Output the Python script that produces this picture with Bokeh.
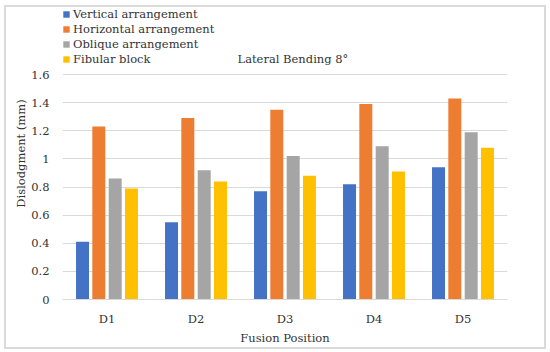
from bokeh.plotting import figure
from bokeh.models import ColumnDataSource, Legend, LegendItem, Label, FactorRange
from bokeh.transform import dodge
from bokeh.embed import file_html
from bokeh.resources import INLINE

categories = ["D1", "D2", "D3", "D4", "D5"]
vertical = [0.41, 0.55, 0.77, 0.82, 0.94]
horizontal = [1.23, 1.29, 1.35, 1.39, 1.43]
oblique = [0.86, 0.92, 1.02, 1.09, 1.19]
fibular = [0.79, 0.84, 0.88, 0.91, 1.08]
series_names = ["Vertical arrangement", "Horizontal arrangement", "Oblique arrangement", "Fibular block"]
colors = ["#4472C4", "#ED7D31", "#A5A5A5", "#FFC000"]
y_ticks = [0, 0.2, 0.4, 0.6, 0.8, 1.0, 1.2, 1.4, 1.6]
y_tick_labels = ["0", "0.2", "0.4", "0.6", "0.8", "1", "1.2", "1.4", "1.6"]

FONT = "DejaVu Serif"
FS = "11.5px"
TXT = "#333333"

src = ColumnDataSource(dict(cat=categories, v=vertical, h=horizontal, o=oblique, f=fibular))

# frame spans from the top of the chart to the zero line;
# the area above 1.6 holds the legend and the title
p = figure(frame_width=445, frame_height=292,
           x_range=FactorRange(*categories, range_padding=0),
           y_range=(0, 2.0765), output_backend="svg", toolbar_location=None,
           min_border_left=56, min_border_right=37, min_border_top=0, min_border_bottom=48)
p.styles = {"margin-left": "4px", "margin-top": "5px", "border": "2px solid #DADADA"}

offsets = [-0.275, -0.092, 0.092, 0.275]
keys = ["v", "h", "o", "f"]
renderers = []
for k, off, c in zip(keys, offsets, colors):
    r = p.vbar(x=dodge("cat", off, range=p.x_range), top=k, width=0.146, source=src,
               fill_color=c, line_color=None)
    renderers.append(r)

p.outline_line_color = None
p.xgrid.grid_line_color = None
p.ygrid.grid_line_color = "#D9D9D9"
p.ygrid.grid_line_width = 1
p.yaxis.ticker = y_ticks
p.yaxis.major_label_overrides = {t: l for t, l in zip(y_ticks, y_tick_labels)}

for ax in (p.xaxis[0], p.yaxis[0]):
    ax.axis_line_color = None
    ax.major_tick_line_color = None
    ax.minor_tick_line_color = None
    ax.major_tick_out = 0
    ax.major_tick_in = 0
    ax.minor_tick_out = 0
    ax.minor_tick_in = 0
    ax.major_label_text_font = FONT
    ax.major_label_text_font_size = FS
    ax.major_label_text_color = TXT
    ax.axis_label_text_font = FONT
    ax.axis_label_text_font_size = FS
    ax.axis_label_text_font_style = "normal"
    ax.axis_label_text_color = TXT

p.xaxis.axis_line_color = "#D9D9D9"
p.xaxis.axis_label = "Fusion Position"
p.yaxis.axis_label = "Dislodgment (mm)"
p.yaxis.major_label_standoff = 13
p.yaxis.axis_label_standoff = 0
p.xaxis.major_label_standoff = 12
p.xaxis.axis_label_standoff = 2

legend = Legend(items=[LegendItem(label=n, renderers=[r]) for n, r in zip(series_names, renderers)],
                location=(0, 233), padding=0, margin=0, spacing=0,
                glyph_width=8, glyph_height=8, label_height=15, label_standoff=3,
                label_text_font=FONT, label_text_font_size=FS, label_text_color=TXT,
                border_line_color=None, background_fill_alpha=0)
p.add_layout(legend, "center")

title = Label(x=175, y=241, x_units="screen", y_units="screen", text="Lateral Bending 8°",
              text_font=FONT, text_font_size=FS, text_color=TXT, text_baseline="middle")
p.add_layout(title)

open("out.html", "w").write(file_html(p, INLINE))
